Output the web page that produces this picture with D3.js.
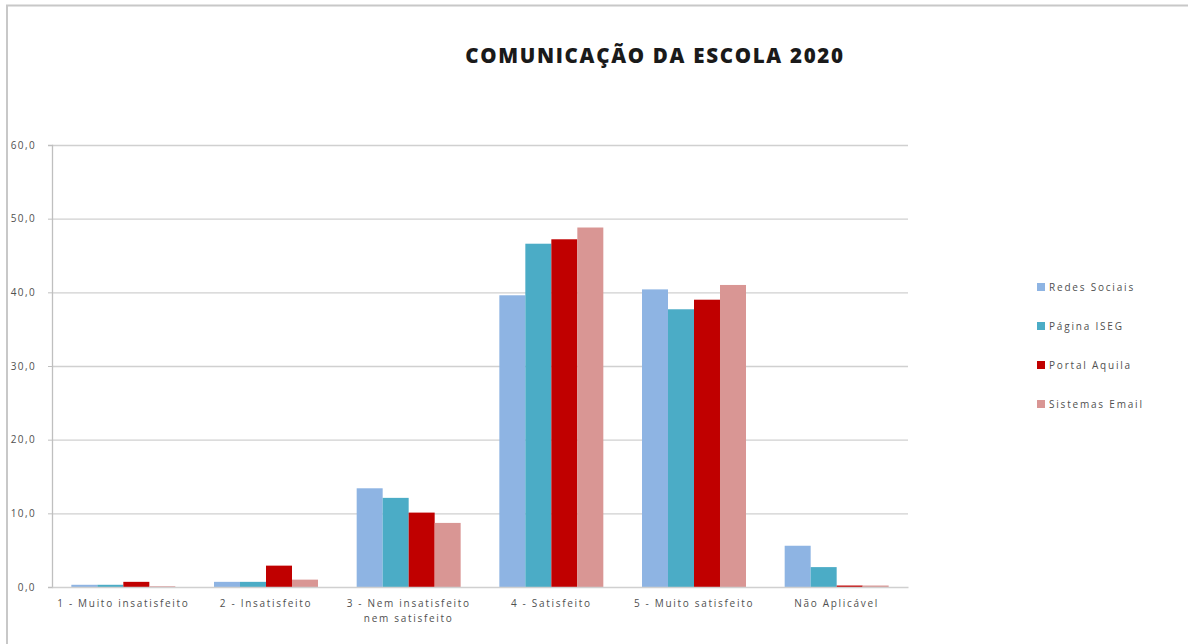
<!DOCTYPE html>
<html><head><meta charset="utf-8">
<script src="https://cdn.jsdelivr.net/npm/d3@7"></script>
<style>body{margin:0;background:#fff;} svg{display:block;}</style>
</head><body>
<svg id="c" width="1198" height="644"></svg>
<script>
const categories = ["1 - Muito insatisfeito","2 - Insatisfeito","3 - Nem insatisfeito|nem satisfeito","4 - Satisfeito","5 - Muito satisfeito","Não Aplicável"];
const seriesNames = ["Redes Sociais","Página ISEG","Portal Aquila","Sistemas Email"];
const redesSociais = [0.3, 0.7, 13.4, 39.6, 40.4, 5.6];
const paginaISEG   = [0.3, 0.7, 12.1, 46.6, 37.7, 2.7];
const portalAquila = [0.7, 2.9, 10.1, 47.2, 39.0, 0.2];
const sistemasEmail= [0.1, 1.0, 8.7, 48.8, 41.0, 0.2];
const yTicks = [0,10,20,30,40,50,60];
const colors = ["#8EB4E3","#4BACC6","#C00000","#D99694"];
const seriesValues = [redesSociais, paginaISEG, portalAquila, sistemasEmail];

(function(){
const svg = d3.select("#c");
const font = "'Open Sans', 'Liberation Sans', sans-serif";
const txtCol = "#505050";

// frame
svg.append("line").attr("x1",6).attr("x2",1188).attr("y1",5.5).attr("y2",5.5).attr("stroke","#c8c8c8").attr("stroke-width",2);
svg.append("line").attr("x1",7).attr("x2",7).attr("y1",5).attr("y2",644).attr("stroke","#c8c8c8").attr("stroke-width",2);

const pL=52, pR=908, pT=145, pB=587;
const x0 = d3.scaleBand().domain(categories).range([pL,pR]).paddingInner(0).paddingOuter(0);
const x1 = d3.scaleBand().domain(seriesNames).range([0,x0.bandwidth()]).paddingInner(0).paddingOuter(0.744);
const y = d3.scaleLinear().domain([0,60]).range([pB,pT]);

// gridlines
svg.append("g").selectAll("line").data(yTicks.filter(d=>d>0)).join("line")
  .attr("x1",pL).attr("x2",pR).attr("y1",d=>y(d)+0.5).attr("y2",d=>y(d)+0.5)
  .attr("stroke","#d0d0d0").attr("stroke-width",1.3);

// y axis
const yAxis = svg.append("g").attr("transform",`translate(${pL},0)`)
  .call(d3.axisLeft(y).tickValues(yTicks).tickSize(4).tickPadding(12).tickFormat(d=>d3.format(".1f")(d).replace(".",",")));
yAxis.select(".domain").attr("stroke","#bfbfbf").attr("stroke-width",1.3);
yAxis.selectAll(".tick line").attr("stroke","#bfbfbf");
yAxis.selectAll("text").attr("fill",txtCol).style("font-family",font).style("font-size","10px").style("letter-spacing","1.4px");

// bars
const g = svg.append("g");
categories.forEach((c,i)=>{
  seriesNames.forEach((s,j)=>{
    const v = seriesValues[j][i];
    g.append("rect").attr("x",x0(c)+x1(s)).attr("width",x1.bandwidth())
      .attr("y",y(v)).attr("height",pB-y(v)).attr("fill",colors[j]);
  });
});

// x axis
const xAxis = svg.append("g").attr("transform",`translate(0,${pB})`)
  .call(d3.axisBottom(x0).tickSize(0).tickPadding(13).tickFormat(d=>""));
xAxis.select(".domain").attr("stroke","#d0d0d0").attr("stroke-width",1.5);
xAxis.selectAll(".tick").each(function(d){
  const t = d3.select(this).select("text").text(null).attr("fill",txtCol).style("font-family",font).style("font-size","10px").style("letter-spacing","1.7px").attr("dy",null);
  d.split("|").forEach((line,k)=>{
    t.append("tspan").attr("x",0).attr("dy",k===0?"0.71em":"1.45em").text(line);
  });
});

// title
svg.append("text").attr("x",655).attr("y",63).attr("text-anchor","middle")
  .style("font-family",font).style("font-weight","800").style("font-size","20.5px").style("letter-spacing","1.7px").attr("fill","#1a1a1a")
  .text("COMUNICAÇÃO DA ESCOLA 2020");

// legend
const leg = svg.append("g");
seriesNames.forEach((s,j)=>{
  const yy = 287 + j*39;
  leg.append("rect").attr("x",1037).attr("y",yy-4).attr("width",8).attr("height",8).attr("fill",colors[j]);
  leg.append("text").attr("x",1049).attr("y",yy).attr("dy","0.35em").attr("fill",txtCol)
    .style("font-family",font).style("font-size","10px").style("letter-spacing","1.8px").text(s);
});
})();
</script>
</body></html>
